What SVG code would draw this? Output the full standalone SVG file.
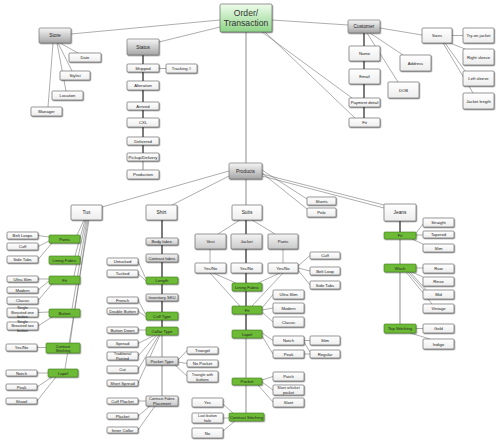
<svg xmlns="http://www.w3.org/2000/svg" width="500" height="443" viewBox="0 0 500 443">
<defs>
<linearGradient id="gg" x1="0" y1="0" x2="0" y2="1"><stop offset="0" stop-color="#f6f6f6"/><stop offset="1" stop-color="#a6a6a6"/></linearGradient>
<linearGradient id="glg" x1="0" y1="0" x2="0" y2="1"><stop offset="0" stop-color="#f4f4f4"/><stop offset="1" stop-color="#c9c9c9"/></linearGradient>
<linearGradient id="gw" x1="0" y1="0" x2="0" y2="1"><stop offset="0" stop-color="#ffffff"/><stop offset="1" stop-color="#ededed"/></linearGradient>
<linearGradient id="go" x1="0" y1="0" x2="0" y2="1"><stop offset="0" stop-color="#effcec"/><stop offset="1" stop-color="#8ed488"/></linearGradient>
<filter id="sh" x="-20%" y="-20%" width="150%" height="170%"><feDropShadow dx="0.7" dy="0.9" stdDeviation="0.6" flood-color="#000" flood-opacity="0.45"/></filter>
</defs>
<style>
rect{stroke:#555;stroke-width:0.6;filter:url(#sh)}
.w{fill:url(#gw)}
.gr{fill:url(#gg);stroke:#666}
.lg{fill:url(#glg)}
.g{fill:#6cba36;stroke:#3f7a1f}
.o{fill:url(#go);stroke:#555}
text{font-family:"Liberation Sans",Arial,sans-serif;font-size:4.2px;text-anchor:middle;fill:#222}
.big{font-size:8.6px;fill:#333}
.mid{font-size:4.8px}
.sm{font-size:3.8px}
#connectors path{fill:none;stroke:#6a6a6a;stroke-width:0.55}
#connectors .tk{stroke:#444;stroke-width:1.4}
#connectors .lt{stroke:#a8a8a8;stroke-width:1.3}
</style>
<rect width="500" height="443" fill="#fff" style="stroke:none;filter:none"/>
<g id="connectors">
<path class="lt" d="M246,32V163"/>
<path d="M220,20L71,34M220,27L159,42M272,20L348,25M262,32L352,98M265,32L355,118"/>
<path d="M60,43L78,53M58,43L72,71M57,43L66,91M53,43L48,107"/>
<path class="tk" d="M143,55V153"/>
<path class="lt" d="M143,161V170"/>
<path d="M159,68.5H166"/>
<path class="tk" d="M364,33V118"/>
<path d="M370,33L403,55M367,33L398,82M380,28L422,35M452,35.5H463M450,43L465,49M445,43L465,71M443,43L473,93"/>
<path d="M229,171L102,207M229,176L172,205M262,170L307,199M262,173L307,209M262,176L384,208M262,174L384,205"/>
<path class="lt" d="M246,179V205"/>
<path d="M84,220L77,235M85,220L75,256M86,220L74,276M87,220L72,309M88,220L70,343M89,220L65,369"/>
<path d="M49,237L38,235.5M49,241L38,246.5M52,243L38,259.5M49,279L38,279M49,281L38,290M52,284L38,300.5M49,312L38,312.5M52,317L38,326M46,347.5L37,347.5M48,373L37,373M52,377L37,387M56,377L37,401"/>
<path class="tk" d="M162,220V335"/>
<path class="lt" d="M162,335V396"/>
<path d="M146,279L138,261.5M146,281L138,273.5M146,315L138,300M146,317L138,311M146,330H138M155,335L138,343.5M157,335L138,356M159,335L138,369.5M160,335L138,383M178,360L187,350.5M178,362L187,363.5M175,365L187,376M146,401L138,401M150,406L138,416M155,406L138,430"/>
<path d="M240,220L218,234M252,220L275,234M210,249V263M283,249V263M213,273L236,283M210,273L240,306M280,273L258,283M283,273L252,306M298,266L310,255.5M298,268L310,271M298,270L310,285M262,308L273,294.5M262,310L273,308M262,312L273,322M262,333L273,340.5M262,336L273,354M304,340.5H310M304,354H310M304,342L310,352M262,380L273,376.5M262,382L273,390M258,385L273,402M223,404L233,413M223,418H229M223,431L235,421"/>
<path class="tk" d="M246,220V338"/>
<path class="lt" d="M246,338V413"/>
<path class="tk" d="M400,221V232"/>
<path class="lt" d="M400,239V324"/>
<path d="M416,233L423,224M416,235H423M412,239L425,245M416,268H423M412,272L425,278M408,272L425,291M410,272L428,292M406,272L432,304M416,328.5H423M410,333L430,339"/>
</g>
<g id="order"><rect class="o" x="220" y="4" width="52" height="28" rx="1.5"/><text class="big" x="246" y="16">Order/</text><text class="big" x="246" y="26">Transaction</text></g>
<g id="store"><rect class="gr" x="39" y="28" width="32" height="15" rx="1"/><text class="mid" x="55" y="37.2">Store</text></g>
<g id="date"><rect class="w" x="69" y="53" width="32" height="9" rx="1"/><text x="85" y="59">Date</text></g>
<g id="stylist"><rect class="w" x="60" y="71" width="30" height="9" rx="1"/><text x="75" y="77">Stylist</text></g>
<g id="location"><rect class="w" x="52" y="91" width="31" height="9" rx="1"/><text x="67.5" y="97">Location</text></g>
<g id="manager"><rect class="w" x="31" y="107" width="31" height="9" rx="1"/><text x="46.5" y="113">Manager</text></g>
<g id="status"><rect class="gr" x="127" y="39" width="32" height="16" rx="1"/><text class="mid" x="143" y="48.7">Status</text></g>
<g id="shipped"><rect class="w" x="127" y="64" width="32" height="8" rx="1"/><text x="143" y="69.5">Shipped</text></g>
<g id="tracking"><rect class="w" x="166" y="64" width="31" height="9" rx="1"/><text x="181.5" y="70">Tracking #</text></g>
<g id="alteration"><rect class="w" x="127" y="81" width="32" height="9" rx="1"/><text x="143" y="87">Alteration</text></g>
<g id="arrived"><rect class="w" x="127" y="102" width="32" height="8" rx="1"/><text x="143" y="107.5">Arrived</text></g>
<g id="cxl"><rect class="w" x="127" y="118" width="32" height="9" rx="1"/><text x="143" y="124">CXL</text></g>
<g id="delivered"><rect class="w" x="127" y="137" width="32" height="8" rx="1"/><text x="143" y="142.5">Delivered</text></g>
<g id="pickup"><rect class="w" x="127" y="153" width="32" height="8" rx="1"/><text x="143" y="158.5">Pickup/Delivery</text></g>
<g id="production"><rect class="w" x="127" y="170" width="32" height="9" rx="1"/><text x="143" y="176">Production</text></g>
<g id="customer"><rect class="gr" x="348" y="20" width="32" height="13" rx="1"/><text class="mid" x="364" y="28.2">Customer</text></g>
<g id="name"><rect class="w" x="349" y="46" width="31" height="15" rx="1"/><text x="364.5" y="55">Name</text></g>
<g id="email"><rect class="w" x="349" y="69" width="31" height="15" rx="1"/><text x="364.5" y="78">Email</text></g>
<g id="payment"><rect class="w" x="349" y="98" width="31" height="9" rx="1"/><text x="364.5" y="104">Payment detail</text></g>
<g id="cfit"><rect class="w" x="349" y="118" width="31" height="9" rx="1"/><text x="364.5" y="124">Fit</text></g>
<g id="address"><rect class="w" x="400" y="55" width="31" height="16" rx="1"/><text x="415.5" y="64.5">Address</text></g>
<g id="dob"><rect class="w" x="388" y="82" width="31" height="16" rx="1"/><text x="403.5" y="91.5">DOB</text></g>
<g id="sizes"><rect class="w" x="422" y="28" width="30" height="15" rx="1"/><text x="437" y="37">Sizes</text></g>
<g id="tryon"><rect class="w" x="463" y="28" width="31" height="15" rx="1"/><text x="478.5" y="37">Try-on jacket</text></g>
<g id="rsleeve"><rect class="w" x="463" y="49" width="31" height="16" rx="1"/><text x="478.5" y="58.5">Right sleeve</text></g>
<g id="lsleeve"><rect class="w" x="463" y="71" width="31" height="15" rx="1"/><text x="478.5" y="80">Left sleeve</text></g>
<g id="jlength"><rect class="w" x="463" y="93" width="31" height="16" rx="1"/><text x="478.5" y="102.5">Jacket length</text></g>
<g id="products"><rect class="gr" x="229" y="163" width="33" height="16" rx="1"/><text class="mid" x="245.5" y="172.7">Products</text></g>
<g id="tux"><rect class="w" x="71" y="205" width="31" height="15" rx="1"/><text class="mid" x="86.5" y="214">Tux</text></g>
<g id="shirt"><rect class="w" x="146" y="205" width="31" height="15" rx="1"/><text class="mid" x="161.5" y="214">Shirt</text></g>
<g id="suits"><rect class="w" x="232" y="205" width="30" height="15" rx="1"/><text class="mid" x="247" y="214">Suits</text></g>
<g id="shorts"><rect class="w" x="307" y="197" width="29" height="8" rx="1"/><text x="321.5" y="202.5">Shorts</text></g>
<g id="polo"><rect class="w" x="307" y="208" width="29" height="9" rx="1"/><text x="321.5" y="214">Polo</text></g>
<g id="jeans"><rect class="w" x="384" y="204" width="32" height="17" rx="1"/><text class="mid" x="400" y="214.2">Jeans</text></g>
<g id="tux-pants"><rect class="g" x="49" y="235" width="31" height="8" rx="1"/><text x="64.5" y="240.5">Pants</text></g>
<g id="tux-lining"><rect class="g" x="49" y="256" width="31" height="8" rx="1"/><text x="64.5" y="261.5">Lining Fabric</text></g>
<g id="tux-fit"><rect class="g" x="49" y="276" width="31" height="8" rx="1"/><text x="64.5" y="281.5">Fit</text></g>
<g id="tux-button"><rect class="g" x="49" y="309" width="31" height="8" rx="1"/><text x="64.5" y="314.5">Button</text></g>
<g id="tux-contrast"><rect class="g" x="46" y="343" width="34" height="10" rx="1"/><text class="sm" x="63" y="347.5">Contrast</text><text class="sm" x="63" y="352">Stitching</text></g>
<g id="tux-lapel"><rect class="g" x="48" y="369" width="30" height="8" rx="1"/><text x="63" y="374.5">Lapel</text></g>
<g id="beltloops"><rect class="w" x="7" y="232" width="31" height="7" rx="1"/><text x="22.5" y="237">Belt Loops</text></g>
<g id="tux-cuff"><rect class="w" x="7" y="243" width="31" height="7" rx="1"/><text x="22.5" y="248">Cuff</text></g>
<g id="tux-sidetabs"><rect class="w" x="7" y="256" width="31" height="7" rx="1"/><text x="22.5" y="261">Side Tabs</text></g>
<g id="tux-ultraslim"><rect class="w" x="7" y="276" width="31" height="6" rx="1"/><text x="22.5" y="280.5">Ultra Slim</text></g>
<g id="tux-modern"><rect class="w" x="7" y="287" width="31" height="6" rx="1"/><text x="22.5" y="291.5">Modern</text></g>
<g id="tux-classic"><rect class="w" x="7" y="297" width="31" height="7" rx="1"/><text x="22.5" y="302">Classic</text></g>
<g id="sb1"><rect class="w" x="7" y="308" width="31" height="9" rx="1"/><text class="sm" x="22.5" y="309">Single</text><text class="sm" x="22.5" y="313.5">Breasted one</text><text class="sm" x="22.5" y="318">button</text></g>
<g id="sb2"><rect class="w" x="7" y="322" width="31" height="8" rx="1"/><text class="sm" x="22.5" y="322.5">Single</text><text class="sm" x="22.5" y="327">Breasted two</text><text class="sm" x="22.5" y="331.5">button</text></g>
<g id="tux-yesno"><rect class="w" x="6" y="344" width="31" height="7" rx="1"/><text x="21.5" y="349">Yes/No</text></g>
<g id="tux-notch"><rect class="w" x="6" y="370" width="31" height="6" rx="1"/><text x="21.5" y="374.5">Notch</text></g>
<g id="tux-peak"><rect class="w" x="6" y="384" width="31" height="6" rx="1"/><text x="21.5" y="388.5">Peak</text></g>
<g id="tux-shawl"><rect class="w" x="6" y="398" width="31" height="6" rx="1"/><text x="21.5" y="402.5">Shawl</text></g>
<g id="bodyfabric"><rect class="lg" x="146" y="238" width="32" height="7" rx="1"/><text x="162" y="243">Body fabric</text></g>
<g id="contrastfabric"><rect class="lg" x="146" y="254" width="32" height="8" rx="1"/><text x="162" y="259.5">Contrast fabric</text></g>
<g id="length"><rect class="g" x="146" y="277" width="32" height="7" rx="1"/><text x="162" y="282">Length</text></g>
<g id="invsku"><rect class="lg" x="146" y="294" width="32" height="7" rx="1"/><text x="162" y="299">Inventory SKU</text></g>
<g id="cufftype"><rect class="g" x="146" y="312" width="32" height="8" rx="1"/><text x="162" y="317.5">Cuff Type</text></g>
<g id="collartype"><rect class="g" x="146" y="327" width="32" height="8" rx="1"/><text x="162" y="332.5">Collar Type</text></g>
<g id="pockettype"><rect class="lg" x="146" y="357" width="32" height="8" rx="1"/><text x="162" y="362.5">Pocket Type</text></g>
<g id="cfp"><rect class="lg" x="146" y="396" width="32" height="10" rx="1"/><text class="sm" x="162" y="400.3">Contrast Fabric</text><text class="sm" x="162" y="404.8">Placement</text></g>
<g id="untucked"><rect class="w" x="107" y="258" width="31" height="7" rx="1"/><text x="122.5" y="263">Untucked</text></g>
<g id="tucked"><rect class="w" x="107" y="270" width="31" height="7" rx="1"/><text x="122.5" y="275">Tucked</text></g>
<g id="french"><rect class="w" x="107" y="297" width="31" height="6" rx="1"/><text x="122.5" y="301.5">French</text></g>
<g id="doublebutton"><rect class="w" x="107" y="308" width="31" height="6" rx="1"/><text x="122.5" y="312.5">Double Button</text></g>
<g id="buttondown"><rect class="w" x="107" y="327" width="31" height="6" rx="1"/><text x="122.5" y="331.5">Button Down</text></g>
<g id="spread"><rect class="w" x="107" y="340" width="31" height="7" rx="1"/><text x="122.5" y="345">Spread</text></g>
<g id="tradpointed"><rect class="w" x="107" y="352" width="31" height="8" rx="1"/><text class="sm" x="122.5" y="355.3">Traditional</text><text class="sm" x="122.5" y="359.5">Pointed</text></g>
<g id="cut"><rect class="w" x="107" y="366" width="31" height="7" rx="1"/><text x="122.5" y="371">Cut</text></g>
<g id="shortspread"><rect class="w" x="107" y="380" width="31" height="6" rx="1"/><text x="122.5" y="384.5">Short Spread</text></g>
<g id="cuffplacket"><rect class="w" x="107" y="398" width="31" height="6" rx="1"/><text x="122.5" y="402.5">Cuff Placket</text></g>
<g id="placket"><rect class="w" x="107" y="413" width="31" height="6" rx="1"/><text x="122.5" y="417.5">Placket</text></g>
<g id="innercollar"><rect class="w" x="107" y="427" width="31" height="6" rx="1"/><text x="122.5" y="431.5">Inner Collar</text></g>
<g id="triangel"><rect class="w" x="187" y="347" width="31" height="7" rx="1"/><text x="202.5" y="352">Triangel</text></g>
<g id="nopocket"><rect class="w" x="187" y="360" width="31" height="7" rx="1"/><text x="202.5" y="365">No Pocket</text></g>
<g id="tributtons"><rect class="w" x="187" y="371" width="31" height="11" rx="1"/><text class="sm" x="202.5" y="376">Triangle with</text><text class="sm" x="202.5" y="380.5">buttons</text></g>
<g id="vest"><rect class="lg" x="195" y="234" width="31" height="15" rx="1"/><text x="210.5" y="243">Vest</text></g>
<g id="jacket"><rect class="lg" x="231" y="234" width="31" height="15" rx="1"/><text x="246.5" y="243">Jacket</text></g>
<g id="suit-pants"><rect class="lg" x="268" y="234" width="30" height="15" rx="1"/><text x="283" y="243">Pants</text></g>
<g id="yn-vest"><rect class="w" x="195" y="263" width="31" height="10" rx="1"/><text x="210.5" y="269.5">Yes/No</text></g>
<g id="yn-jacket"><rect class="w" x="231" y="263" width="31" height="10" rx="1"/><text x="246.5" y="269.5">Yes/No</text></g>
<g id="yn-pants"><rect class="w" x="268" y="263" width="30" height="10" rx="1"/><text x="283" y="269.5">Yes/No</text></g>
<g id="suit-lining"><rect class="g" x="232" y="283" width="30" height="8" rx="1"/><text x="247" y="288.5">Lining Fabric</text></g>
<g id="suit-fit"><rect class="g" x="232" y="306" width="30" height="8" rx="1"/><text x="247" y="311.5">Fit</text></g>
<g id="suit-lapel"><rect class="g" x="232" y="330" width="30" height="8" rx="1"/><text x="247" y="335.5">Lapel</text></g>
<g id="suit-pocket"><rect class="g" x="232" y="378" width="30" height="7" rx="1"/><text x="247" y="383">Pocket</text></g>
<g id="suit-contrast"><rect class="g" x="229" y="413" width="35" height="8" rx="1"/><text x="246.5" y="418.5">Contrast Stitching</text></g>
<g id="suit-cuff"><rect class="w" x="310" y="252" width="30" height="7" rx="1"/><text x="325" y="257">Cuff</text></g>
<g id="suit-beltloop"><rect class="w" x="310" y="267" width="30" height="8" rx="1"/><text x="325" y="272.5">Belt Loop</text></g>
<g id="suit-sidetabs"><rect class="w" x="310" y="281" width="30" height="8" rx="1"/><text x="325" y="286.5">Side Tabs</text></g>
<g id="suit-ultraslim"><rect class="w" x="273" y="290" width="31" height="9" rx="1"/><text x="288.5" y="296">Ultra Slim</text></g>
<g id="suit-modern"><rect class="w" x="273" y="303" width="31" height="10" rx="1"/><text x="288.5" y="309.5">Modern</text></g>
<g id="suit-classic"><rect class="w" x="273" y="317" width="31" height="10" rx="1"/><text x="288.5" y="323.5">Classic</text></g>
<g id="suit-notch"><rect class="w" x="273" y="336" width="31" height="9" rx="1"/><text x="288.5" y="342">Notch</text></g>
<g id="suit-peak"><rect class="w" x="273" y="350" width="31" height="8" rx="1"/><text x="288.5" y="355.5">Peak</text></g>
<g id="suit-slim"><rect class="w" x="310" y="336" width="30" height="9" rx="1"/><text x="325" y="342">Slim</text></g>
<g id="suit-regular"><rect class="w" x="310" y="350" width="30" height="8" rx="1"/><text x="325" y="355.5">Regular</text></g>
<g id="patch"><rect class="w" x="273" y="372" width="31" height="9" rx="1"/><text x="288.5" y="378">Patch</text></g>
<g id="slantw"><rect class="w" x="273" y="385" width="31" height="10" rx="1"/><text class="sm" x="288.5" y="389.3">Slant w/ticket</text><text class="sm" x="288.5" y="393.8">pocket</text></g>
<g id="slant"><rect class="w" x="273" y="398" width="31" height="9" rx="1"/><text x="288.5" y="404">Slant</text></g>
<g id="suit-yes"><rect class="w" x="192" y="398" width="31" height="9" rx="1"/><text x="207.5" y="404">Yes</text></g>
<g id="lastbutton"><rect class="w" x="192" y="413" width="31" height="10" rx="1"/><text class="sm" x="207.5" y="417.3">Last button</text><text class="sm" x="207.5" y="421.8">hole</text></g>
<g id="suit-no"><rect class="w" x="192" y="428" width="31" height="10" rx="1"/><text x="207.5" y="434.5">No</text></g>
<g id="jeans-fit"><rect class="g" x="384" y="232" width="32" height="7" rx="1"/><text x="400" y="237">Fit</text></g>
<g id="wash"><rect class="g" x="384" y="264" width="32" height="8" rx="1"/><text x="400" y="269.5">Wash</text></g>
<g id="topstitching"><rect class="g" x="384" y="324" width="32" height="9" rx="1"/><text x="400" y="330">Top Stitching</text></g>
<g id="straight"><rect class="w" x="423" y="218" width="31" height="9" rx="1"/><text x="438.5" y="224">Straight</text></g>
<g id="tapered"><rect class="w" x="423" y="231" width="31" height="7" rx="1"/><text x="438.5" y="236">Tapered</text></g>
<g id="jeans-slim"><rect class="w" x="423" y="244" width="31" height="8" rx="1"/><text x="438.5" y="249.5">Slim</text></g>
<g id="raw"><rect class="w" x="423" y="264" width="31" height="9" rx="1"/><text x="438.5" y="270">Raw</text></g>
<g id="rinse"><rect class="w" x="423" y="277" width="31" height="9" rx="1"/><text x="438.5" y="283">Rinse</text></g>
<g id="mid"><rect class="w" x="423" y="290" width="31" height="9" rx="1"/><text x="438.5" y="296">Mid</text></g>
<g id="vintage"><rect class="w" x="423" y="304" width="31" height="9" rx="1"/><text x="438.5" y="310">Vintage</text></g>
<g id="gold"><rect class="w" x="423" y="324" width="31" height="9" rx="1"/><text x="438.5" y="330">Gold</text></g>
<g id="indigo"><rect class="w" x="423" y="339" width="31" height="10" rx="1"/><text x="438.5" y="345.5">Indigo</text></g>
</svg>
